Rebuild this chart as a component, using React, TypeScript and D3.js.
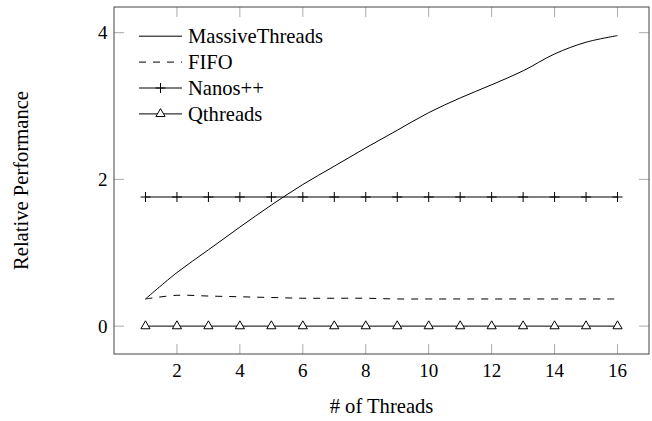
import * as d3 from 'd3';

const threads = [1, 2, 3, 4, 5, 6, 7, 8, 9, 10, 11, 12, 13, 14, 15, 16];
const massiveThreads = [0.37, 0.73, 1.04, 1.35, 1.65, 1.93, 2.18, 2.43, 2.67, 2.91, 3.11, 3.29, 3.48, 3.71, 3.87, 3.96];
const fifo = [0.37, 0.42, 0.41, 0.4, 0.39, 0.38, 0.38, 0.38, 0.37, 0.37, 0.37, 0.37, 0.37, 0.37, 0.37, 0.37];
const nanos = [1.76, 1.76, 1.76, 1.76, 1.76, 1.76, 1.76, 1.76, 1.76, 1.76, 1.76, 1.76, 1.76, 1.76, 1.76, 1.76];
const qthreads = [0, 0, 0, 0, 0, 0, 0, 0, 0, 0, 0, 0, 0, 0, 0, 0];
const xTicks = [2, 4, 6, 8, 10, 12, 14, 16];
const yTicks = [0, 2, 4];
const legendNames = ['MassiveThreads', 'FIFO', 'Nanos++', 'Qthreads'];

const [width, height] = [652, 421];
const [left, right, top, bottom] = [114, 649, 7, 354];
const font = "'Liberation Serif'";

const x = d3.scaleLinear().domain([0, 17]).range([left, right]);
const y = d3.scaleLinear().domain([-0.38, 4.35]).range([bottom, top]);

const pts = (vals: number[]) => threads.map((t, i) => [t, vals[i]] as [number, number]);
const smooth = d3.line<[number, number]>().x(d => x(d[0])).y(d => y(d[1])).curve(d3.curveCatmullRom);
const straight = d3.line<[number, number]>().x(d => x(d[0])).y(d => y(d[1]));

const plusMark = (cx: number, cy: number, r = 5) =>
  `M${cx - r},${cy}H${cx + r}M${cx},${cy - r}V${cy + r}`;
const triMark = (cx: number, cy: number, r = 5.3) => {
  const h = r * Math.sqrt(3) / 2;
  return `M${cx},${cy - r}L${cx + h},${cy + r / 2}L${cx - h},${cy + r / 2}Z`;
};

function Legend() {
  const rows = [36.2, 62.1, 88, 113.9];
  const [x0, x1] = [139, 182];
  const xm = (x0 + x1) / 2;
  return (
    <g>
      {rows.map((ry, i) => (
        <g key={i}>
          <line x1={x0} x2={x1} y1={ry} y2={ry} stroke="#000" strokeWidth={1}
            strokeDasharray={i === 1 ? '7,7' : undefined} />
          {i === 2 && <path d={plusMark(xm, ry)} stroke="#000" fill="none" />}
          {i === 3 && <path d={triMark(xm, ry)} stroke="#000" fill="#fff" />}
          <text x={188} y={ry} dominantBaseline="central" fontSize={20.6} style={{ fontFamily: font }}>
            {legendNames[i]}
          </text>
        </g>
      ))}
    </g>
  );
}

export default function App() {
  return (
    <svg width={width} height={height}
      style={{ position: 'absolute', left: 0, top: 0, background: '#fff' }}>
      {/* ticks, mirrored on all sides */}
      {xTicks.map(t => (
        <g key={'x' + t}>
          <line x1={x(t)} x2={x(t)} y1={bottom} y2={bottom - 10} stroke="#aaa" />
          <line x1={x(t)} x2={x(t)} y1={top} y2={top + 10} stroke="#aaa" />
          <text x={x(t)} y={377} textAnchor="middle" fontSize={19} style={{ fontFamily: font }}>{t}</text>
        </g>
      ))}
      {yTicks.map(t => (
        <g key={'y' + t}>
          <line x1={left} x2={left + 10} y1={y(t)} y2={y(t)} stroke="#aaa" />
          <line x1={right} x2={right - 10} y1={y(t)} y2={y(t)} stroke="#aaa" />
          <text x={107.5} y={y(t)} textAnchor="end" dominantBaseline="central" fontSize={19}
            style={{ fontFamily: font }}>{t}</text>
        </g>
      ))}
      <rect x={left} y={top} width={right - left} height={bottom - top} fill="none" stroke="#444" strokeWidth={1} />

      {/* series */}
      <path d={smooth(pts(massiveThreads)) ?? ''} fill="none" stroke="#000" strokeWidth={1} />
      <path d={smooth(pts(fifo)) ?? ''} fill="none" stroke="#000" strokeWidth={1} strokeDasharray="7,7" />
      <path d={straight(pts(nanos)) ?? ''} fill="none" stroke="#000" strokeWidth={1} />
      {pts(nanos).map(([t, v]) => (
        <path key={'n' + t} d={plusMark(x(t), y(v))} stroke="#000" fill="none" />
      ))}
      <path d={straight(pts(qthreads)) ?? ''} fill="none" stroke="#000" strokeWidth={1} />
      {pts(qthreads).map(([t, v]) => (
        <path key={'q' + t} d={triMark(x(t), y(v))} stroke="#000" fill="#fff" />
      ))}

      <Legend />

      <text x={(left + right) / 2} y={413} textAnchor="middle" fontSize={20.6}
        style={{ fontFamily: font }}># of Threads</text>
      <text transform={`translate(28,${(top + bottom) / 2}) rotate(-90)`} textAnchor="middle"
        fontSize={20.6} style={{ fontFamily: font }}>Relative Performance</text>
    </svg>
  );
}
